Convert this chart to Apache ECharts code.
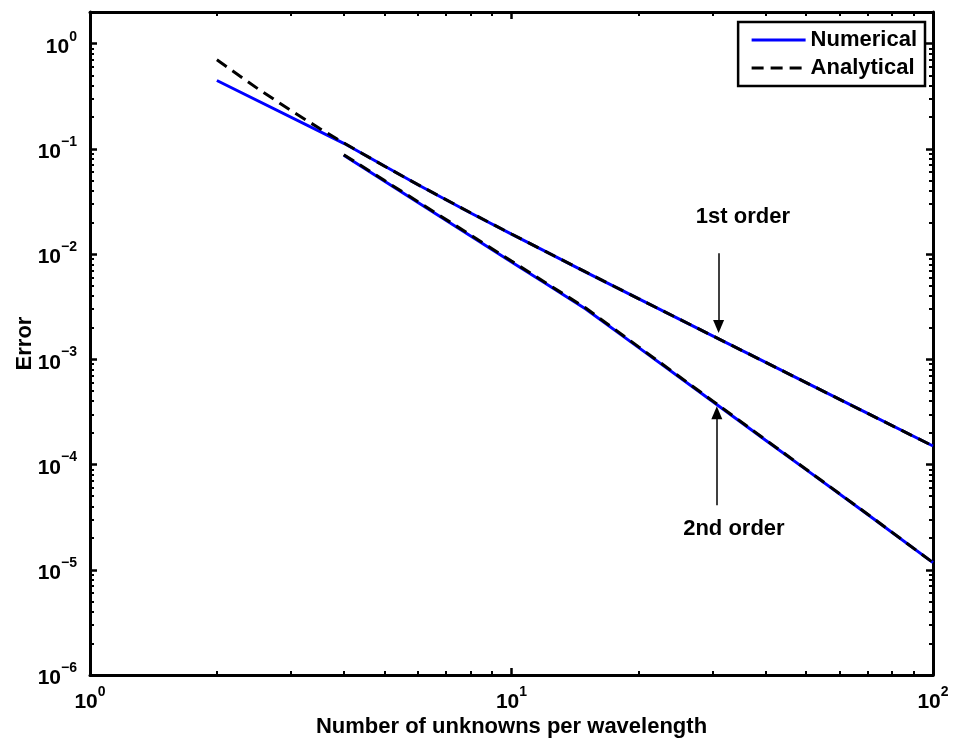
<!DOCTYPE html>
<html>
<head>
<meta charset="utf-8">
<script src="https://cdn.jsdelivr.net/npm/echarts@6/dist/echarts.min.js"></script>
<style>
  html, body { margin: 0; padding: 0; background: #fff; }
  #chart { width: 953px; height: 741px; }
</style>
</head>
<body>
<div id="chart"></div>
<script>
// Discretisation error versus resolution (unknowns per wavelength), log-log.
const nNumerical1 = [2, 4, 6, 8, 10, 12, 15, 20, 30, 40, 50, 70, 100];
const errNumerical1 = [0.447, 0.113, 0.0456, 0.0246, 0.01550, 0.01066, 0.00675, 0.00377, 0.001671, 0.000939, 0.000601, 0.000306, 0.000150];

const nAnalytical1 = [2, 2.5, 3, 3.5, 4, 5, 6, 8, 10, 12, 15, 20, 30, 40, 50, 70, 100];
const errAnalytical1 = [0.703, 0.374, 0.231, 0.157, 0.114, 0.0684, 0.0457, 0.0247, 0.01553, 0.01067, 0.00677, 0.00378, 0.001673, 0.00094, 0.000601, 0.000306, 0.00015];

const nNumerical2 = [4, 5, 6, 8, 10, 12, 15, 20, 30, 40, 50, 70, 100];
const errNumerical2 = [0.0870, 0.0493, 0.0310, 0.01490, 0.00843, 0.00531, 0.00301, 0.00130, 0.000397, 0.000171, 0.0000895, 0.0000335, 0.0000117];

const nAnalytical2 = [4, 5, 6, 8, 10, 12, 15, 20, 30, 40, 50, 70, 100];
const errAnalytical2 = [0.0881, 0.0500, 0.0315, 0.01517, 0.00859, 0.00541, 0.00307, 0.00132, 0.000403, 0.000173, 0.0000902, 0.0000337, 0.0000117];

// Axis ranges (powers of ten) and annotation text
const xDecades = [0, 1, 2];
const yDecades = [-6, -5, -4, -3, -2, -1, 0];
const xRange = [1, 100];
const yRange = [1e-6, 2];
const seriesNames = ['Numerical', 'Analytical'];
const annotationText = ['1st order', '2nd order'];

const FONT = '"Liberation Sans", Arial, Helvetica, sans-serif';
const GRID = { left: 90, right: 20, top: 12, bottom: 66, outerBoundsMode: 'none', containLabel: false };

const pairs = (xs, ys) => xs.map((x, i) => [x, ys[i]]);

// minor tick positions (2..9 x 10^k) in log10 space for the decoration axes
function minorLogs(decades, maxLog) {
  const out = [];
  for (let i = 0; i < decades.length; i++) {
    for (let m = 2; m <= 9; m++) {
      const v = decades[i] + Math.log10(m);
      if (v < maxLog - 1e-9) out.push(v);
    }
  }
  return out;
}

function powLabel(v) {
  const l = Math.log10(v);
  const e = Math.round(l);
  if (Math.abs(l - e) > 1e-6) return '';
  const s = e < 0 ? '\u2212' + (-e) : String(e);
  return '{b|10}{s|' + s + '}';
}

const labelRich = {
  b: { fontSize: 21, fontWeight: 'bold', fontFamily: FONT, color: '#000', lineHeight: 28, verticalAlign: 'bottom' },
  s: { fontSize: 14, fontWeight: 'bold', fontFamily: FONT, color: '#000', lineHeight: 16, verticalAlign: 'top' }
};

const axisLineStyle = { show: true, onZero: false, lineStyle: { color: '#000', width: 3 } };
const majorTick = { show: true, inside: true, length: 7, lineStyle: { color: '#000', width: 2.5 } };
const minorTick = { show: true, inside: true, length: 4, lineStyle: { color: '#000', width: 2 } };

function mainX(position, withLabels) {
  return {
    type: 'log', logBase: 10, gridIndex: 0, position,
    min: xRange[0], max: xRange[1],
    axisLine: axisLineStyle,
    axisTick: majorTick,
    splitLine: { show: false },
    axisLabel: withLabels ? { show: true, margin: 10, formatter: powLabel, rich: labelRich } : { show: false },
    name: withLabels ? 'Number of unknowns per wavelength' : '',
    nameLocation: 'middle', nameGap: 41, nameMoveOverlap: false,
    nameTextStyle: { fontSize: 22, fontWeight: 'bold', fontFamily: FONT, color: '#000' }
  };
}
function mainY(position, withLabels) {
  return {
    type: 'log', logBase: 10, gridIndex: 0, position,
    min: yRange[0], max: yRange[1],
    axisLine: axisLineStyle,
    axisTick: majorTick,
    splitLine: { show: false },
    axisLabel: withLabels ? { show: true, margin: 13, formatter: powLabel, rich: labelRich } : { show: false },
    name: withLabels ? 'Error' : '',
    nameLocation: 'middle', nameGap: 54, nameMoveOverlap: false,
    nameTextStyle: { fontSize: 22, fontWeight: 'bold', fontFamily: FONT, color: '#000' }
  };
}
function minorAxis(position, min, max, ticks) {
  return {
    type: 'value', gridIndex: 1, position, min, max,
    axisLine: { show: false, onZero: false },
    axisTick: Object.assign({ customValues: ticks }, minorTick),
    axisLabel: { show: false },
    splitLine: { show: false }
  };
}

const xMinor = minorLogs(xDecades, Math.log10(xRange[1]));
const yMinor = minorLogs(yDecades, Math.log10(yRange[1]));
const yLogMin = Math.log10(yRange[0]), yLogMax = Math.log10(yRange[1]);

const blueLine = { color: '#0000ff', width: 3, type: 'solid' };
const dashLine = { color: '#000000', width: 3, type: [12, 7] };

const option = {
  animation: false,
  backgroundColor: '#ffffff',
  grid: [
    Object.assign({ show: false }, GRID),
    Object.assign({ show: false }, GRID)
  ],
  xAxis: [
    mainX('bottom', true),
    mainX('top', false),
    minorAxis('bottom', 0, 2, xMinor),
    minorAxis('top', 0, 2, xMinor)
  ],
  yAxis: [
    mainY('left', true),
    mainY('right', false),
    minorAxis('left', yLogMin, yLogMax, yMinor),
    minorAxis('right', yLogMin, yLogMax, yMinor)
  ],
  legend: {
    data: seriesNames,
    orient: 'vertical',
    right: 28, top: 22,
    align: 'left',
    backgroundColor: '#fff',
    borderColor: '#000',
    borderWidth: 2.5,
    borderRadius: 0,
    padding: [7, 8, 7, 12],
    itemGap: 6,
    itemWidth: 54,
    itemHeight: 24,
    itemStyle: { opacity: 0 },
    lineStyle: { width: 3 },
    textStyle: { fontSize: 22, fontWeight: 'bold', fontFamily: FONT, color: '#000' }
  },
  series: [
    {
      name: seriesNames[0], type: 'line', xAxisIndex: 0, yAxisIndex: 0,
      data: pairs(nNumerical1, errNumerical1),
      symbol: 'none', color: '#0000ff', lineStyle: blueLine, z: 2, silent: true
    },
    {
      name: seriesNames[0], type: 'line', xAxisIndex: 0, yAxisIndex: 0,
      data: pairs(nNumerical2, errNumerical2),
      symbol: 'none', color: '#0000ff', lineStyle: blueLine, z: 2, silent: true
    },
    {
      name: seriesNames[1], type: 'line', xAxisIndex: 0, yAxisIndex: 0,
      data: pairs(nAnalytical1, errAnalytical1),
      symbol: 'none', color: '#000000', lineStyle: dashLine, z: 3, silent: true,
      markLine: {
        silent: true,
        symbol: ['none', 'triangle'],
        symbolSize: [11, 13],
        lineStyle: { color: '#000', width: 1.5, type: 'solid' },
        label: { show: false },
        data: [
          [{ coord: [31, 0.0102] }, { coord: [31, 0.00205] }],
          [{ coord: [30.7, 4.11e-5] }, { coord: [30.7, 3.11e-4] }]
        ]
      },
      markPoint: {
        silent: true,
        symbol: 'rect', symbolSize: 1,
        itemStyle: { color: 'rgba(0,0,0,0)' },
        label: { show: true, position: 'inside', formatter: '{b}', color: '#000', fontSize: 22, fontWeight: 'bold', fontFamily: FONT },
        data: [
          { name: annotationText[0], coord: [35.4, 0.0224] },
          { name: annotationText[1], coord: [33.7, 2.45e-5] }
        ]
      }
    },
    {
      name: seriesNames[1], type: 'line', xAxisIndex: 0, yAxisIndex: 0,
      data: pairs(nAnalytical2, errAnalytical2),
      symbol: 'none', color: '#000000', lineStyle: dashLine, z: 3, silent: true
    }
  ]
};

const chart = echarts.init(document.getElementById('chart'), null, { renderer: 'canvas' });
chart.setOption(option);
</script>
</body>
</html>
